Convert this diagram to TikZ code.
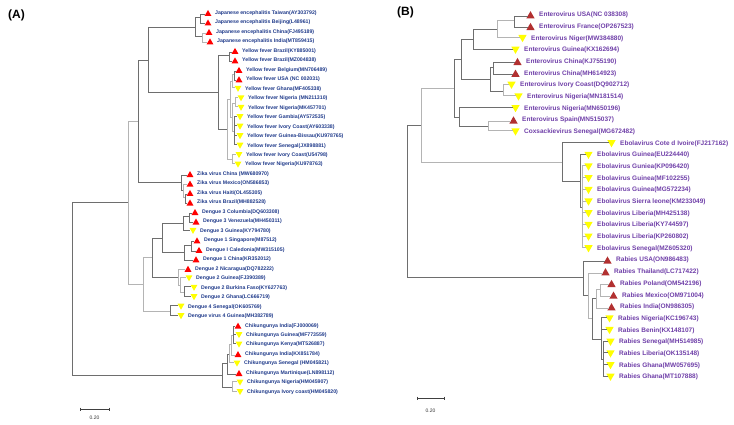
\documentclass[tikz,border=0pt]{standalone}
\usepackage{fontspec}
\setmainfont{Liberation Sans}
\usetikzlibrary{shapes.geometric}
\definecolor{navyA}{HTML}{1F3A8A}
\definecolor{purB}{HTML}{6F3FA8}
\definecolor{redA}{HTML}{FF0000}
\definecolor{redB}{HTML}{B23030}
\definecolor{yel}{HTML}{FFFF00}
\definecolor{brd}{HTML}{6E6E6E}
\definecolor{brl}{HTML}{B4B4B4}
\tikzset{
  upA/.style={regular polygon, regular polygon sides=3, fill=redA, inner sep=0pt, minimum size=8pt, yshift=-1pt},
  dnA/.style={regular polygon, regular polygon sides=3, shape border rotate=180, fill=yel, inner sep=0pt, minimum size=8pt, yshift=1pt},
  upB/.style={regular polygon, regular polygon sides=3, fill=redB, inner sep=0pt, minimum size=9.6pt, yshift=-1pt},
  dnB/.style={regular polygon, regular polygon sides=3, shape border rotate=180, fill=yel, inner sep=0pt, minimum size=9.6pt, yshift=1pt},
  labA/.style={anchor=west, inner sep=0pt, text=navyA, font=\fontsize{5.2}{6}\selectfont\bfseries},
  labB/.style={anchor=west, inner sep=0pt, text=purB, font=\fontsize{6.5}{7.5}\selectfont\bfseries},
  br/.style={draw=brd, line width=0.7pt},
  brlt/.style={draw=brl, line width=0.7pt},
  sbar/.style={draw=black!75, line width=0.5pt},
  sbl/.style={inner sep=0pt, text=black!80, font=\fontsize{5}{6}\selectfont},
  ttl/.style={anchor=west, inner sep=0pt, font=\fontsize{12}{14}\selectfont\bfseries}
}
\newcommand{\lfA}[5]{\node[#4A] (#1) at ({#2-7},#3) {}; \node[labA] (#1t) at (#2,#3) {#5};}
\newcommand{\lfB}[5]{\node[#4B] (#1) at ({#2-8.5},#3) {}; \node[labB] (#1t) at (#2,#3) {#5};}
\begin{document}
\begin{tikzpicture}[x=1pt,y=-1pt]
\useasboundingbox (0,0) rectangle (734,425);
\node[ttl] (tA) at (8,15.5) {(A)};
\node[ttl] (tB) at (397,12.5) {(B)};
% ---------- Panel A leaves
\lfA{a1}{215}{13.0}{up}{Japanese encephalitis Taiwan(AY303792)}
\lfA{a2}{215}{22.5}{up}{Japanese encephalitis Beijing(L48961)}
\lfA{a3}{216}{32.0}{up}{Japanese encephalitis China(FJ495189)}
\lfA{a4}{217}{41.4}{up}{Japanese encephalitis India(MT859415)}
\lfA{a5}{242}{50.9}{up}{Yellow fever Brazil(KY885001)}
\lfA{a6}{242}{60.4}{up}{Yellow fever Brazil(MZ004838)}
\lfA{a7}{246}{69.9}{up}{Yellow fever Belgium(MN706489)}
\lfA{a8}{246}{79.3}{up}{Yellow fever USA (NC 002031)}
\lfA{a9}{245}{88.8}{dn}{Yellow fever Ghana(MF405338)}
\lfA{a10}{248}{98.3}{dn}{Yellow fever Nigeria (MN211310)}
\lfA{a11}{248}{107.8}{dn}{Yellow fever Nigeria(MK457701)}
\lfA{a12}{247}{117.2}{dn}{Yellow fever Gambia(AY572535)}
\lfA{a13}{247}{126.7}{dn}{Yellow fever Ivory Coast(AY603338)}
\lfA{a14}{247}{136.2}{dn}{Yellow fever Guinea-Bissau(KU978765)}
\lfA{a15}{247}{145.7}{dn}{Yellow fever Senegal(JX898881)}
\lfA{a16}{246}{155.1}{dn}{Yellow fever Ivory Coast(U54798)}
\lfA{a17}{245}{164.6}{dn}{Yellow fever Nigeria(KU978763)}
\lfA{a18}{197}{174.1}{up}{Zika virus China (MW680970)}
\lfA{a19}{197}{183.6}{up}{Zika virus Mexico(ON586853)}
\lfA{a20}{197}{193.0}{up}{Zika virus Haiti(OL455305)}
\lfA{a21}{197}{202.5}{up}{Zika virus Brazil(MH882528)}
\lfA{a22}{202}{212.0}{up}{Dengue 3 Columbia(DQ603308)}
\lfA{a23}{203}{221.5}{up}{Dengue 3 Venezuela(MH450311)}
\lfA{a24}{200}{230.9}{dn}{Dengue 3 Guinea(KY794780)}
\lfA{a25}{204}{240.4}{up}{Dengue 1 Singapore(M87512)}
\lfA{a26}{206}{249.9}{up}{Dengue I Caledonia(MW315105)}
\lfA{a27}{203}{259.3}{up}{Dengue 1 China(KR352012)}
\lfA{a28}{195}{268.8}{up}{Dengue 2 Nicaragua(DQ782222)}
\lfA{a29}{196}{278.3}{dn}{Dengue 2 Guinea(FJ390389)}
\lfA{a30}{201}{287.8}{dn}{Dengue 2 Burkina Faso(KY627763)}
\lfA{a31}{201}{297.2}{dn}{Dengue 2 Ghana(LC666719)}
\lfA{a32}{188}{306.7}{dn}{Dengue 4 Senegal(OK605769)}
\lfA{a33}{188}{316.2}{dn}{Dengue virus 4 Guinea(MH382789)}
\lfA{a34}{245}{325.7}{up}{Chikungunya India(FJ000069)}
\lfA{a35}{246}{335.1}{dn}{Chikungunya Guinea(MF773559)}
\lfA{a36}{246}{344.6}{dn}{Chikungunya Kenya(MT526887)}
\lfA{a37}{245}{354.1}{up}{Chikungunya India(KX851784)}
\lfA{a38}{244}{363.6}{dn}{Chikungunya Senegal (HM045821)}
\lfA{a39}{246}{373.0}{up}{Chikungunya Martinique(LN898112)}
\lfA{a40}{247}{382.5}{dn}{Chikungunya Nigeria(HM045907)}
\lfA{a41}{247}{392.0}{dn}{Chikungunya Ivory coast(HM045820)}
% ---------- Panel A internal nodes
\coordinate (JEa) at (200,17.75);
\coordinate (JEb) at (202,36.7);
\coordinate (JE) at (195,27.2);
\coordinate (YFa) at (229.5,55.65);
\coordinate (YFe) at (234,74.6);
\coordinate (YFd) at (232,81.7);
\coordinate (YFg) at (235,103.05);
\coordinate (YFh) at (234,131.45);
\coordinate (YFf) at (232,117.25);
\coordinate (YFc) at (230,99.5);
\coordinate (YFi) at (232,159.85);
\coordinate (YFb) at (227,129.7);
\coordinate (YF) at (218,92.7);
\coordinate (A3) at (148,60);
\coordinate (ZKc) at (185,197.75);
\coordinate (ZKb) at (183,190.7);
\coordinate (ZK) at (181,182.4);
\coordinate (A2) at (138,121.2);
\coordinate (D3a) at (189,216.75);
\coordinate (D3) at (183,223.8);
\coordinate (D1a) at (191,245.15);
\coordinate (D1) at (184,252.2);
\coordinate (DG2) at (162,238);
\coordinate (D2c) at (184,292.5);
\coordinate (D2b) at (180,285.4);
\coordinate (D2) at (178,277.1);
\coordinate (DG1) at (152,257.5);
\coordinate (D4) at (170,311.45);
\coordinate (DG) at (143,284.5);
\coordinate (A1) at (128,202.85);
\coordinate (CHd) at (233,335.1);
\coordinate (CHc) at (231,344.6);
\coordinate (CHb) at (229,354.1);
\coordinate (CHa) at (227,363.55);
\coordinate (CHn) at (232,387.25);
\coordinate (CH) at (222,375.4);
\coordinate (RA) at (72,289.1);
% ---------- Panel A connectors
\draw[br] (JEa) |- (a1.west) (JEa) |- (a2.west);
\draw[brlt] (JEb) |- (a3.west) (JEb) |- (a4.west);
\draw[br] (JE) |- (JEa) (JE) |- (JEb);
\draw[br] (YFa) |- (a5.west) (YFa) |- (a6.west);
\draw[br] (YFe) |- (a7.west) (YFe) |- (a8.west);
\draw[brlt] (YFd) |- (YFe) (YFd) |- (a9.west);
\draw[brlt] (YFg) |- (a10.west) (YFg) |- (a11.west);
\draw[br] (YFh) |- (a12.west) (YFh) |- (a13.west) (YFh) |- (a14.west) (YFh) |- (a15.west);
\draw[brlt] (YFf) |- (YFg) (YFf) |- (YFh);
\draw[brlt] (YFc) |- (YFd) (YFc) |- (YFf);
\draw[brlt] (YFi) |- (a16.west) (YFi) |- (a17.west);
\draw[brlt] (YFb) |- (YFc) (YFb) |- (YFi);
\draw[br] (YF) |- (YFa) (YF) |- (YFb);
\draw[br] (A3) |- (JE) (A3) |- (YF);
\draw[br] (ZKc) |- (a20.west) (ZKc) |- (a21.west);
\draw[brlt] (ZKb) |- (a19.west) (ZKb) |- (ZKc);
\draw[br] (ZK) |- (a18.west) (ZK) |- (ZKb);
\draw[br] (A2) |- (A3) (A2) |- (ZK);
\draw[br] (D3a) |- (a22.west) (D3a) |- (a23.west);
\draw[br] (D3) |- (D3a) (D3) |- (a24.west);
\draw[br] (D1a) |- (a25.west) (D1a) |- (a26.west);
\draw[br] (D1) |- (D1a) (D1) |- (a27.west);
\draw[br] (DG2) |- (D3) (DG2) |- (D1);
\draw[br] (D2c) |- (a30.west) (D2c) |- (a31.west);
\draw[brlt] (D2b) |- (a29.west) (D2b) |- (D2c);
\draw[brlt] (D2) |- (a28.west) (D2) |- (D2b);
\draw[br] (DG1) |- (DG2) (DG1) |- (D2);
\draw[br] (D4) |- (a32.west) (D4) |- (a33.west);
\draw[brlt] (DG) |- (DG1) (DG) |- (D4);
\draw[brlt] (A1) |- (A2) (A1) |- (DG);
\draw[br] (CHd) |- (a34.west) (CHd) |- (a35.west) (CHd) |- (a36.west);
\draw[brlt] (CHc) |- (CHd) (CHc) |- (a37.west);
\draw[brlt] (CHb) |- (CHc) (CHb) |- (a38.west);
\draw[br] (CHa) |- (CHb) (CHa) |- (a39.west);
\draw[brlt] (CHn) |- (a40.west) (CHn) |- (a41.west);
\draw[br] (CH) |- (CHa) (CH) |- (CHn);
\draw[br] (RA) |- (A1) (RA) |- (CH);
% scale bar A
\coordinate (sa1) at (80,409);
\coordinate (sa2) at (109,409);
\draw[sbar] (sa1) -- (sa2);
\draw[sbar] ([yshift=1.5pt]sa1) -- ([yshift=-1.5pt]sa1);
\draw[sbar] ([yshift=1.5pt]sa2) -- ([yshift=-1.5pt]sa2);
\node[sbl] (sal) at (94.5,418) {0.20};
% ---------- Panel B leaves
\lfB{b1}{539}{15.00}{up}{Enterovirus USA(NC 038308)}
\lfB{b2}{539}{26.68}{up}{Enterovirus France(OP267523)}
\lfB{b3}{531}{38.36}{dn}{Enterovirus Niger(MW384880)}
\lfB{b4}{524}{50.04}{dn}{Enterovirus Guinea(KX162694)}
\lfB{b5}{526}{61.72}{up}{Enterovirus China(KJ755190)}
\lfB{b6}{524}{73.40}{up}{Enterovirus China(MH614923)}
\lfB{b7}{520}{85.08}{dn}{Enterovirus Ivory Coast(DQ902712)}
\lfB{b8}{527}{96.76}{dn}{Enterovirus Nigeria(MN181514)}
\lfB{b9}{524}{108.44}{dn}{Enterovirus Nigeria(MN650196)}
\lfB{b10}{522}{120.12}{up}{Enterovirus Spain(MN515037)}
\lfB{b11}{524}{131.80}{dn}{Coxsackievirus Senegal(MG672482)}
\lfB{b12}{620}{143.48}{dn}{Ebolavirus Cote d Ivoire(FJ217162)}
\lfB{b13}{597}{155.16}{dn}{Ebolavirus Guinea(EU224440)}
\lfB{b14}{597}{166.84}{dn}{Ebolavirus Guniea(KP096420)}
\lfB{b15}{597}{178.52}{dn}{Ebolavirus Guinea(MF102255)}
\lfB{b16}{597}{190.20}{dn}{Ebolavirus Guinea(MG572234)}
\lfB{b17}{597}{201.88}{dn}{Ebolavirus Sierra leone(KM233049)}
\lfB{b18}{597}{213.56}{dn}{Ebolavirus Liberia(MH425138)}
\lfB{b19}{597}{225.24}{dn}{Ebolavirus Liberia(KY744597)}
\lfB{b20}{597}{236.92}{dn}{Ebolavirus Liberia(KP260802)}
\lfB{b21}{597}{248.60}{dn}{Ebolavirus Senegal(MZ605320)}
\lfB{b22}{616}{260.28}{up}{Rabies USA(ON986483)}
\lfB{b23}{614}{271.96}{up}{Rabies Thailand(LC717422)}
\lfB{b24}{620}{283.64}{up}{Rabies Poland(OM542196)}
\lfB{b25}{622}{295.32}{up}{Rabies Mexico(OM971004)}
\lfB{b26}{620}{307.00}{up}{Rabies India(ON986305)}
\lfB{b27}{618}{318.68}{dn}{Rabies Nigeria(KC196743)}
\lfB{b28}{618}{330.36}{dn}{Rabies Benin(KX148107)}
\lfB{b29}{619}{342.04}{dn}{Rabies Senegal(MH514985)}
\lfB{b30}{619}{353.72}{dn}{Rabies Liberia(OK135148)}
\lfB{b31}{619}{365.40}{dn}{Rabies Ghana(MW057695)}
\lfB{b32}{619}{377.08}{dn}{Rabies Ghana(MT107888)}
% ---------- Panel B internal nodes
\coordinate (N6) at (514,20.84);
\coordinate (N5) at (497,29.6);
\coordinate (N4) at (473,39.82);
\coordinate (N8) at (493,67.56);
\coordinate (N9) at (503,90.92);
\coordinate (N7) at (490,79.24);
\coordinate (N3) at (461,59.53);
\coordinate (N11) at (488,125.96);
\coordinate (N10) at (459,117.2);
\coordinate (N2) at (454,88.37);
\coordinate (E3) at (582,207.72);
\coordinate (E2) at (580,181.44);
\coordinate (E) at (562,162.46);
\coordinate (N1) at (421,125.41);
\coordinate (Rb5) at (600,289.48);
\coordinate (Rb4) at (596,298.24);
\coordinate (Rb7) at (603,359.56);
\coordinate (Rb6) at (601,339.12);
\coordinate (Rb3) at (592,318.68);
\coordinate (Rb2) at (588,295.32);
\coordinate (Rab) at (583,277.8);
\coordinate (RB) at (407,201.6);
% ---------- Panel B connectors
\draw[br] (N6) |- (b1.west) (N6) |- (b2.west);
\draw[brlt] (N5) |- (N6) (N5) |- (b3.west);
\draw[br] (N4) |- (N5) (N4) |- (b4.west);
\draw[br] (N8) |- (b5.west) (N8) |- (b6.west);
\draw[brlt] (N9) |- (b7.west) (N9) |- (b8.west);
\draw[br] (N7) |- (N8) (N7) |- (N9);
\draw[br] (N3) |- (N4) (N3) |- (N7);
\draw[brlt] (N11) |- (b10.west) (N11) |- (b11.west);
\draw[br] (N10) |- (b9.west) (N10) |- (N11);
\draw[br] (N2) |- (N3) (N2) |- (N10);
\draw[brlt] (E3) |- (b14.west) (E3) |- (b15.west) (E3) |- (b16.west) (E3) |- (b17.west) (E3) |- (b18.west) (E3) |- (b19.west) (E3) |- (b20.west) (E3) |- (b21.west);
\draw[br] (E2) |- (b13.west) (E2) |- (E3);
\draw[br] (E) |- (b12.west) (E) |- (E2);
\draw[brlt] (N1) |- (N2) (N1) |- (E);
\draw[brlt] (Rb5) |- (b24.west) (Rb5) |- (b25.west);
\draw[brlt] (Rb4) |- (Rb5) (Rb4) |- (b26.west);
\draw[br] (Rb7) |- (b29.west) (Rb7) |- (b30.west) (Rb7) |- (b31.west) (Rb7) |- (b32.west);
\draw[br] (Rb6) |- (b27.west) (Rb6) |- (b28.west) (Rb6) |- (Rb7);
\draw[br] (Rb3) |- (Rb4) (Rb3) |- (Rb6);
\draw[brlt] (Rb2) |- (b23.west) (Rb2) |- (Rb3);
\draw[br] (Rab) |- (b22.west) (Rab) |- (Rb2);
\draw[br] (RB) |- (N1) (RB) |- (Rab);
% scale bar B
\coordinate (sb1) at (417,398);
\coordinate (sb2) at (444,398);
\draw[sbar] (sb1) -- (sb2);
\draw[sbar] ([yshift=1.5pt]sb1) -- ([yshift=-1.5pt]sb1);
\draw[sbar] ([yshift=1.5pt]sb2) -- ([yshift=-1.5pt]sb2);
\node[sbl] (sbl1) at (430.5,411) {0.20};
\end{tikzpicture}
\end{document}
